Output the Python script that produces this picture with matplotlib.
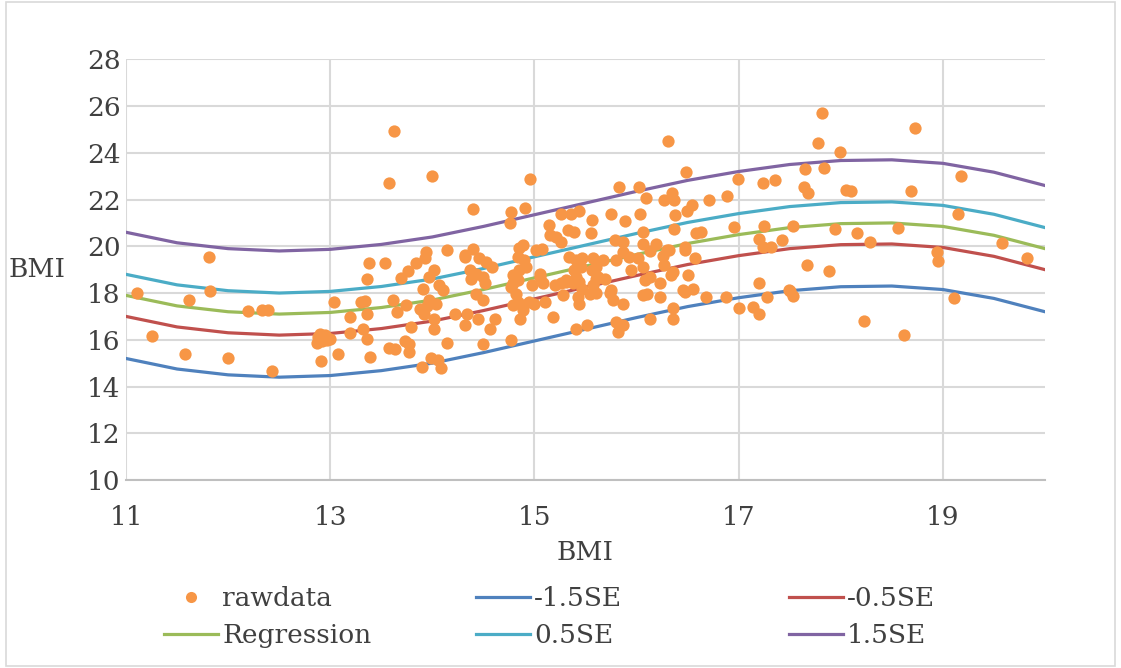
import matplotlib
matplotlib.use("Agg")
import matplotlib.pyplot as plt
from matplotlib.lines import Line2D
from matplotlib.patches import Rectangle

plt.rcParams['font.family'] = ['DejaVu Serif']

# raw observations
raw_x = [
    11.11, 11.25, 11.62, 11.58, 11.81, 11.82, 12.00, 12.19, 12.33, 12.39, 12.43, 12.88, 12.90, 12.92,
    12.97, 12.91, 12.95, 13.00, 12.87,
    13.04, 13.08, 13.19, 13.19, 13.30, 13.34, 13.36, 13.36, 13.38, 13.54, 13.32, 13.36, 13.39, 13.58,
    13.63, 13.61, 13.65, 13.74, 13.69, 13.76, 13.79, 13.73, 13.77, 13.77, 13.84, 13.94, 13.91, 13.97,
    13.88, 13.92, 13.95, 13.62, 13.58, 14.00, 13.93,
    14.02, 14.14, 14.07, 14.10, 14.04, 13.97, 14.02, 14.02, 14.14, 13.99, 13.90, 14.06, 14.08, 14.22,
    14.32, 14.32, 14.40, 14.77, 14.76, 14.91, 14.96, 14.40, 14.32, 14.46, 14.53, 14.58, 14.37, 14.38,
    14.50, 14.43, 14.52, 14.43, 14.50, 14.45, 14.61, 14.56, 14.50, 14.77, 14.89, 14.85, 14.84, 14.90,
    14.85, 14.79, 14.79, 14.92, 14.84, 14.77, 14.82, 14.84, 14.79, 14.86, 14.95, 14.89, 14.98, 14.34,
    15.02, 15.07, 15.05, 15.08, 15.00, 15.05, 15.10, 15.18, 15.20, 15.26, 15.28, 15.31, 15.41, 15.43,
    15.44, 15.47, 15.54, 15.57, 15.62, 15.69, 15.75, 15.87, 15.41, 15.51, 15.80, 15.82, 15.87, 15.60,
    15.74, 15.77, 15.14, 15.15, 15.21, 15.26, 15.26, 15.36, 15.44, 15.56, 15.55, 15.33, 15.39, 15.75,
    15.83, 16.02, 15.89, 15.79, 15.87, 15.34, 15.41, 15.47, 15.39, 15.46, 15.56, 15.31, 15.38, 15.44,
    15.60, 15.93, 15.95, 15.57, 15.67, 15.80, 15.60, 15.87,
    16.01, 16.06, 16.08, 16.13, 16.23, 16.45, 16.55, 16.09, 16.03, 16.06, 16.06, 16.13, 16.19, 16.26,
    16.30, 16.31, 16.48, 16.27, 16.35, 16.37, 16.54, 16.71, 16.89, 16.99, 16.38, 16.49, 16.37, 16.58,
    16.63, 16.47, 16.47, 16.57, 16.95, 16.32, 16.27, 16.36, 16.06, 16.10, 16.23, 16.13, 16.36, 16.36,
    16.34, 16.50, 16.47, 16.68, 16.88, 17.00,
    17.24, 17.36, 17.65, 17.84, 17.78, 17.82, 17.99, 17.64, 17.68, 18.05, 18.10, 18.69, 18.73, 19.18,
    19.15, 17.25, 17.53, 17.20, 17.24, 17.32, 17.42, 17.94, 18.16, 18.29, 18.56, 18.94, 18.95, 19.58,
    19.82, 17.67, 17.88, 17.20, 17.49, 17.14, 17.20, 17.28, 17.50, 17.53, 18.23, 18.62, 19.11,
]
raw_y = [
    18.00, 16.15, 17.69, 15.41, 19.53, 18.08, 15.22, 17.22, 17.29, 17.29, 14.66, 16.10, 16.26, 15.95,
    16.00, 15.08, 16.20, 16.05, 15.85,
    17.62, 15.38, 16.98, 16.29, 17.62, 17.65, 17.12, 18.62, 19.29, 19.29, 16.48, 16.05, 15.26, 15.65,
    15.62, 17.69, 17.19, 17.48, 18.66, 18.95, 16.55, 15.95, 15.80, 15.48, 19.29, 19.76, 18.19, 18.69,
    17.30, 17.10, 17.45, 24.93, 22.72, 23.00, 19.50,
    18.98, 19.83, 18.35, 18.15, 17.55, 17.69, 16.90, 16.46, 15.86, 15.20, 14.85, 15.15, 14.80, 17.12,
    16.62, 19.62, 21.58, 21.45, 21.00, 21.66, 22.87, 19.90, 19.55, 19.48, 19.33, 19.12, 18.98, 18.62,
    18.69, 18.80, 18.44, 17.98, 17.69, 16.91, 16.91, 16.48, 15.81, 16.01, 20.05, 19.91, 19.55, 19.41,
    18.98, 18.76, 18.41, 19.12, 18.55, 18.26, 17.98, 17.62, 17.48, 16.91, 17.62, 17.26, 18.33, 17.12,
    19.83, 19.90, 18.83, 18.41, 17.55, 18.69, 17.62, 16.98, 18.33, 18.41, 17.91, 18.55, 18.69, 17.83,
    17.55, 18.19, 17.98, 18.33, 18.69, 18.62, 18.12, 17.55, 16.48, 16.62, 16.76, 16.33, 16.62, 18.00,
    18.00, 17.69, 20.90, 20.48, 20.40, 20.19, 21.40, 21.40, 21.50, 21.12, 20.57, 20.69, 20.62, 21.40,
    22.54, 22.54, 21.07, 20.27, 20.20, 19.55, 19.41, 19.48, 18.98, 19.12, 18.98, 18.48, 18.41, 18.48,
    18.62, 19.55, 18.98, 19.48, 19.41, 19.41, 19.12, 19.76,
    19.48, 19.12, 18.55, 18.69, 18.41, 18.12, 18.19, 22.07, 21.40, 20.62, 20.10, 19.80, 20.10, 19.58,
    19.85, 24.51, 23.19, 21.97, 22.30, 22.00, 21.76, 22.00, 22.16, 22.90, 21.33, 21.50, 20.76, 20.55,
    20.62, 19.97, 19.83, 19.49, 20.83, 19.83, 19.20, 18.90, 17.91, 17.95, 17.83, 16.91, 17.34, 16.91,
    18.76, 18.76, 18.05, 17.83, 17.83, 17.34,
    22.69, 22.83, 23.29, 23.37, 24.40, 25.69, 24.02, 22.54, 22.29, 22.43, 22.37, 22.36, 25.05, 23.02,
    21.40, 20.87, 20.87, 20.30, 19.99, 19.97, 20.26, 20.73, 20.59, 20.19, 20.80, 19.76, 19.36, 20.12,
    19.50, 19.19, 18.93, 18.45, 18.15, 17.40, 17.12, 17.83, 18.09, 17.86, 16.79, 16.19, 17.79,
]

# fitted curve and standard-error bands
curve_x = [11.0, 11.5, 12.0, 12.5, 13.0, 13.5, 14.0, 14.5, 15.0, 15.5,
           16.0, 16.5, 17.0, 17.5, 18.0, 18.5, 19.0, 19.5, 20.0]
minus_15se = [15.20, 14.75, 14.50, 14.40, 14.47, 14.68, 15.00, 15.45, 15.95, 16.45,
              16.95, 17.42, 17.80, 18.10, 18.27, 18.30, 18.15, 17.77, 17.20]
minus_05se = [17.00, 16.55, 16.30, 16.20, 16.27, 16.48, 16.80, 17.25, 17.75, 18.25,
              18.75, 19.22, 19.60, 19.90, 20.07, 20.10, 19.95, 19.57, 19.00]
regression = [17.90, 17.45, 17.20, 17.10, 17.17, 17.38, 17.70, 18.15, 18.65, 19.15,
              19.65, 20.12, 20.50, 20.80, 20.97, 21.00, 20.85, 20.47, 19.90]
plus_05se = [18.80, 18.35, 18.10, 18.00, 18.07, 18.28, 18.60, 19.05, 19.55, 20.05,
             20.55, 21.02, 21.40, 21.70, 21.87, 21.90, 21.75, 21.37, 20.80]
plus_15se = [20.60, 20.15, 19.90, 19.80, 19.87, 20.08, 20.40, 20.85, 21.35, 21.85,
             22.35, 22.82, 23.20, 23.50, 23.67, 23.70, 23.55, 23.17, 22.60]

x_ticks = [11, 13, 15, 17, 19]
y_ticks = [10, 12, 14, 16, 18, 20, 22, 24, 26, 28]

ORANGE = '#F79646'
BLUE = '#4F81BD'
RED = '#C0504D'
GREEN = '#9BBB59'
CYAN = '#4BACC6'
PURPLE = '#8064A2'
TEXT = '#404040'
FS = 19

fig = plt.figure(figsize=(11.21, 6.68), dpi=100)
ax = fig.add_axes([0.1124, 0.2814, 0.8198, 0.6298])

lw = 2.3
ax.plot(curve_x, minus_15se, color=BLUE, lw=lw, zorder=2)
ax.plot(curve_x, minus_05se, color=RED, lw=lw, zorder=2)
ax.plot(curve_x, regression, color=GREEN, lw=lw, zorder=2)
ax.plot(curve_x, plus_05se, color=CYAN, lw=lw, zorder=2)
ax.plot(curve_x, plus_15se, color=PURPLE, lw=lw, zorder=2)
ax.scatter(raw_x, raw_y, s=78, color=ORANGE, linewidths=0, zorder=3)

ax.set_xlim(11, 20)
ax.set_ylim(10, 28)
ax.set_xticks(x_ticks)
ax.set_yticks(y_ticks)
ax.tick_params(length=0, labelsize=FS, colors=TEXT)
ax.tick_params(axis='x', pad=18)
ax.tick_params(axis='y', pad=4)
ax.grid(True, color='#D9D9D9', lw=1.5, zorder=0)
ax.set_axisbelow(True)
for side in ['left', 'right', 'top']:
    ax.spines[side].set_visible(False)
ax.spines['bottom'].set_color('#BFBFBF')
ax.spines['bottom'].set_linewidth(1.5)

ax.set_xlabel('BMI', fontsize=FS, color=TEXT, va='center')
ax.xaxis.set_label_coords(0.5, -0.172)
ax.set_ylabel('BMI', fontsize=FS, color=TEXT, rotation=0, va='center', ha='center')
ax.yaxis.set_label_coords(-0.097, 0.5)


def line_handle(color):
    return Line2D([], [], color=color, lw=lw)


dot = Line2D([], [], color=ORANGE, marker='o', ls='none', markersize=8, markeredgewidth=0)
columns = [
    ([dot, line_handle(GREEN)], ['rawdata', 'Regression'], 164),
    ([line_handle(BLUE), line_handle(CYAN)], ['-1.5SE', '0.5SE'], 476),
    ([line_handle(RED), line_handle(PURPLE)], ['-0.5SE', '1.5SE'], 789),
]
for handles, labels, px in columns:
    leg = fig.legend(handles, labels, loc='upper left', bbox_to_anchor=(px / 1121, 1 - 586 / 668),
                     frameon=False, fontsize=FS, handlelength=2.05, handletextpad=0.15,
                     borderpad=0, borderaxespad=0, labelspacing=0.45)
    for t in leg.get_texts():
        t.set_color(TEXT)

fig.patches.append(Rectangle((0.005, 0.003), 0.99, 0.994, transform=fig.transFigure,
                             fill=False, edgecolor='#D9D9D9', lw=1.2))

fig.savefig('out.png', dpi=100)
